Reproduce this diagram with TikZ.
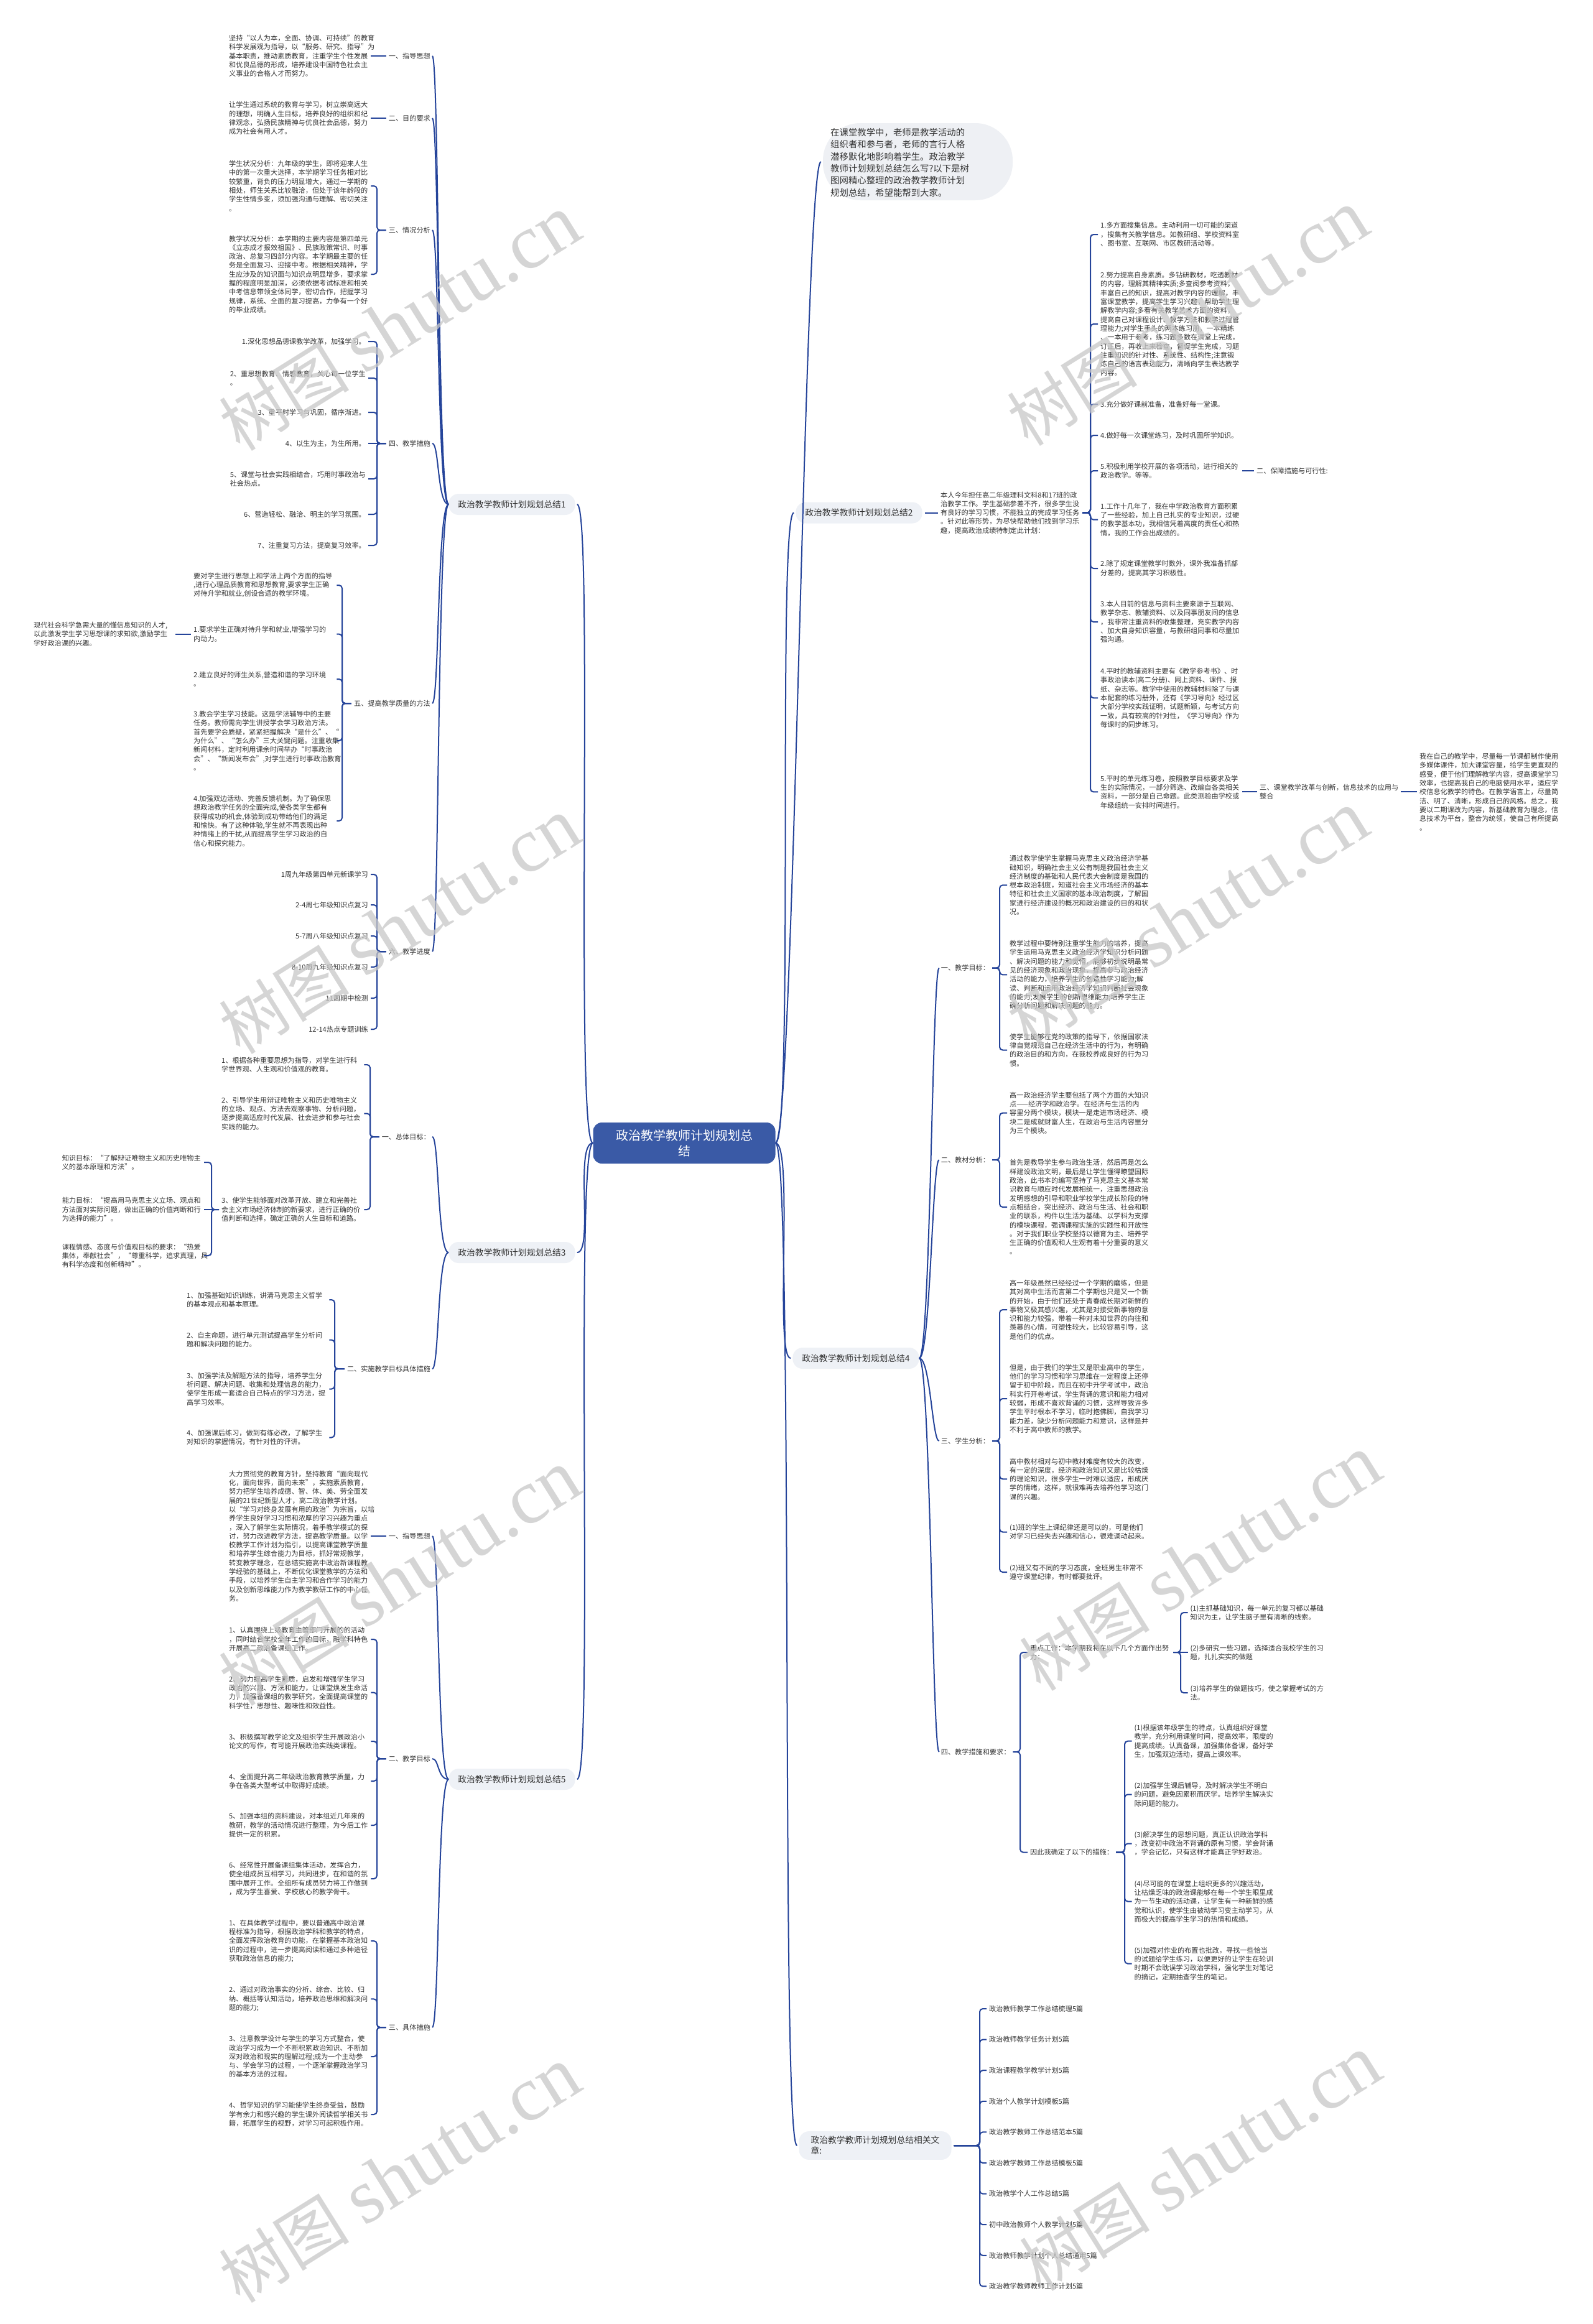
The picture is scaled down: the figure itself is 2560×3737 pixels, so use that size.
\documentclass[tikz,border=0pt]{standalone}
\usepackage{fontspec}
\setmainfont{Noto Sans CJK SC}
\newfontfamily\wmlat{Liberation Serif}
\usetikzlibrary{calc}
\definecolor{linec}{HTML}{25449A}
\definecolor{textc}{HTML}{333333}
\definecolor{cbg}{HTML}{3A5AA6}
\definecolor{nbg}{HTML}{EEF1F6}
\definecolor{ibg}{HTML}{EEF0F4}
\definecolor{wm}{HTML}{C8C8C8}
\newcommand\ftxt{\fontsize{11.15}{14.3}\selectfont}
\newcommand\fbr{\fontsize{13.8}{17}\selectfont}
\newcommand\fintro{\fontsize{14.4}{19.3}\selectfont}
\newcommand\fctr{\fontsize{20}{25}\selectfont}
\newcommand\brl[3]{\draw[conn] (#1.west) -- (#1.west -| #2) -- (#3.east -| #2) -- (#3.east);}
\newcommand\brr[3]{\draw[conn] (#1.east) -- (#1.east -| #2) -- (#3.west -| #2) -- (#3.west);}
\newcommand\stl[2]{\draw[conn] (#1.west) -- (#2.east);}
\newcommand\str[2]{\draw[conn] (#1.east) -- (#2.west);}
\newcommand\cvl[2]{\draw[curv] (#1.west) .. controls +(-18,0) and +(14,0) .. (#2.east);}
\newcommand\cvr[2]{\draw[curv] (#1.east) .. controls +(18,0) and +(-14,0) .. (#2.west);}
\tikzset{
  tx/.style={font=\ftxt, text=textc, inner sep=0pt, align=left},
  lb/.style={font=\ftxt, text=textc, inner sep=0pt},
  conn/.style={draw=linec, line width=2pt, rounded corners=5pt, shorten <=4pt, shorten >=4pt},
  curv/.style={draw=linec, line width=2pt, shorten >=3pt},
  br/.style={fill=nbg, rounded corners=16pt, font=\fbr, text=textc, inner xsep=15pt, inner ysep=8pt, minimum height=34pt, minimum width=203pt, align=left},
  ctr/.style={fill=cbg, rounded corners=14pt, font=\fctr, text=white, align=center, minimum width=293pt, minimum height=66pt, inner sep=4pt},
  ibub/.style={fill=ibg, rounded corners=60pt},
  wmk/.style={text=wm, opacity=0.75, rotate=32, inner sep=0pt}
}
\begin{document}
\begin{tikzpicture}[x=1pt,y=-1pt]
\path[use as bounding box, fill=white] (0,0) rectangle (2560,3737);
% bracket columns
\coordinate (X1) at (606,0);
\coordinate (X1e) at (550,0);
\coordinate (X3a) at (595,0);
\coordinate (X3h) at (340,0);
\coordinate (X3b) at (538,0);
\coordinate (X2) at (1753,0);
\coordinate (X4) at (1607,0);
\coordinate (X4d) at (1640,0);
\coordinate (X4z) at (1898,0);
\coordinate (X4a) at (1808,0);
\coordinate (X6) at (1575,0);

% ===== center and main branches =====
\node[ctr] (C) at (1100,1838) {政治教学教师计划规划总\\结};
\node[br] (B1) at (823,811) {政治教学教师计划规划总结1};
\node[br] (B3) at (823,2014) {政治教学教师计划规划总结3};
\node[br] (B5) at (823,2861) {政治教学教师计划规划总结5};
\node[br] (B2) at (1381,824.5) {政治教学教师计划规划总结2};
\node[br] (B4) at (1376,2184) {政治教学教师计划规划总结4};
\node[br, minimum width=245pt] (B6) at (1407,3450) {政治教学教师计划规划总结相关文\\章:};
\node[ibub, minimum width=305pt, minimum height=124pt] (IB) at (1475.5,260) {};
\node[tx, font=\fintro, anchor=west] (IT) at (1335,261.6) {在课堂教学中，老师是教学活动的\\组织者和参与者，老师的言行人格\\潜移默化地影响着学生。政治教学\\教师计划规划总结怎么写?以下是树\\图网精心整理的政治教学教师计划\\规划总结，希望能帮到大家。};

\draw[curv] (C.west) .. controls +(-30,0) and +(30,0) .. (B1.east);
\draw[curv] (C.west) .. controls +(-30,0) and +(30,0) .. (B3.east);
\draw[curv] (C.west) .. controls +(-30,0) and +(30,0) .. (B5.east);
\draw[curv] (C.east) .. controls +(30,0) and +(-30,0) .. (IB.west);
\draw[curv] (C.east) .. controls +(30,0) and +(-30,0) .. (B2.west);
\draw[curv] (C.east) .. controls +(30,0) and +(-30,0) .. (B4.west);
\draw[curv] (C.east) .. controls +(30,0) and +(-30,0) .. (B6.west);

% ===== branch 1 =====
\node[lb, anchor=east] (L1a) at (692,90) {一、指导思想};
\node[lb, anchor=east] (L1b) at (692,190) {二、目的要求};
\node[lb, anchor=east] (L1c) at (692,370) {三、情况分析};
\node[lb, anchor=east] (L1d) at (692,713) {四、教学措施};
\node[lb, anchor=east] (L1e) at (692,1131) {五、提高教学质量的方法};
\node[lb, anchor=east] (L1f) at (692,1530) {六、教学进度};
\foreach \n in {L1a,L1b,L1c,L1d,L1e,L1f} {\cvl{B1}{\n}}

\node[tx, text width=224pt, anchor=west] (A1) at (368,90) {坚持“以人为本，全面、协调、可持续”的教育\\科学发展观为指导，以“服务、研究、指导”为\\基本职责，推动素质教育，注重学生个性发展\\和优良品德的形成，培养建设中国特色社会主\\义事业的合格人才而努力。};
\node[tx, text width=224pt, anchor=west] (A2) at (368,190) {让学生通过系统的教育与学习，树立崇高远大\\的理想，明确人生目标，培养良好的组织和纪\\律观念，弘扬民族精神与优良社会品德，努力\\成为社会有用人才。};
\node[tx, text width=224pt, anchor=west] (A3) at (368,299) {学生状况分析：九年级的学生，即将迎来人生\\中的第一次重大选择，本学期学习任务相对比\\较繁重，背负的压力明显增大，通过一学期的\\相处，师生关系比较融洽，但处于该年龄段的\\学生性情多变，须加强沟通与理解、密切关注\\。};
\node[tx, text width=224pt, anchor=west] (A4) at (368,441) {教学状况分析：本学期的主要内容是第四单元\\《立志成才报效祖国》、民族政策常识、时事\\政治、总复习四部分内容。本学期最主要的任\\务是全面复习、迎接中考。根据相关精神，学\\生应涉及的知识面与知识点明显增多，要求掌\\握的程度明显加深，必须依据考试标准和相关\\中考信息带领全体同学，密切合作，把握学习\\规律，系统、全面的复习提高，力争有一个好\\的毕业成绩。};
\stl{L1a}{A1}
\stl{L1b}{A2}
\brl{L1c}{X1}{A3}
\brl{L1c}{X1}{A4}

\node[lb, anchor=east] (D1) at (588,549) {1.深化思想品德课教学改革，加强学习。};
\node[tx, anchor=east] (D2) at (588,608) {2、重思想教育、情感教育，关心每一位学生\\。};
\node[lb, anchor=east] (D3) at (588,663) {3、重平时学习与巩固，循序渐进。};
\node[lb, anchor=east] (D4) at (588,713) {4、以生为主，为生所用。};
\node[tx, anchor=east] (D5) at (588,770) {5、课堂与社会实践相结合，巧用时事政治与\\社会热点。};
\node[lb, anchor=east] (D6) at (588,827) {6、营造轻松、融洽、明主的学习氛围。};
\node[lb, anchor=east] (D7) at (588,877) {7、注重复习方法，提高复习效率。};
\foreach \n in {D1,D2,D3,D5,D6,D7} {\brl{L1d}{X1}{\n}}
\stl{L1d}{D4}

\node[tx, text width=226pt, anchor=west] (E1) at (311,941) {要对学生进行思想上和学法上两个方面的指导\\,进行心理品质教育和思想教育,要求学生正确\\对待升学和就业,创设合适的教学环境。};
\node[tx, text width=226pt, anchor=west] (E2) at (311,1019.6) {1.要求学生正确对待升学和就业,增强学习的\\内动力。};
\node[tx, text width=226pt, anchor=west] (E3) at (311,1092) {2.建立良好的师生关系,营造和谐的学习环境\\。};
\node[tx, text width=226pt, anchor=west] (E4) at (311,1191) {3.教会学生学习技能。这是学法辅导中的主要\\任务。教师需向学生讲授学会学习政治方法。\\首先要学会质疑，紧紧把握解决“是什么”、“\\为什么”、“怎么办”三大关键问题。注重收集\\新闻材料，定时利用课余时间举办“时事政治\\会”、“新闻发布会”,对学生进行时事政治教育\\。};
\node[tx, text width=226pt, anchor=west] (E5) at (311,1320) {4.加强双边活动、完善反馈机制。为了确保思\\想政治教学任务的全面完成,使各类学生都有\\获得成功的机会,体验到成功带给他们的满足\\和愉快。有了这种体验,学生就不再表现出种\\种情绪上的干扰,从而提高学生学习政治的自\\信心和探究能力。};
\foreach \n in {E1,E2,E3,E4,E5} {\brl{L1e}{X1e}{\n}}
\node[tx, text width=218pt, anchor=west] (F1) at (54,1019.6) {现代社会科学急需大量的懂信息知识的人才,\\以此激发学生学习思想课的求知欲,激励学生\\学好政治课的兴趣。};
\draw[conn, shorten <=10pt] (F1.east) -- (E2.west);

\node[lb, anchor=east] (G1) at (592,1406) {1周九年级第四单元新课学习};
\node[lb, anchor=east] (G2) at (592,1455) {2-4周七年级知识点复习};
\node[lb, anchor=east] (G3) at (592,1505) {5-7周八年级知识点复习};
\node[lb, anchor=east] (G4) at (592,1555) {8-10周九年级知识点复习};
\node[lb, anchor=east] (G5) at (592,1605) {11周期中检测};
\node[lb, anchor=east] (G6) at (592,1655) {12-14热点专题训练};
\foreach \n in {G1,G2,G3,G4,G5,G6} {\brl{L1f}{X1}{\n}}

% ===== branch 3 =====
\node[lb, anchor=east] (L3a) at (692,1828) {一、总体目标：};
\node[lb, anchor=east] (L3b) at (692,2201) {二、实施教学目标具体措施};
\cvl{B3}{L3a}
\cvl{B3}{L3b}
\node[tx, text width=225pt, anchor=west] (H31) at (356,1712) {1、根据各种重要思想为指导，对学生进行科\\学世界观、人生观和价值观的教育。};
\node[tx, text width=225pt, anchor=west] (H32) at (356,1790.5) {2、引导学生用辩证唯物主义和历史唯物主义\\的立场、观点、方法去观察事物、分析问题，\\逐步提高适应时代发展、社会进步和参与社会\\实践的能力。};
\node[tx, text width=225pt, anchor=west] (H33) at (356,1945) {3、使学生能够面对改革开放、建立和完善社\\会主义市场经济体制的新要求，进行正确的价\\值判断和选择，确定正确的人生目标和道路。};
\foreach \n in {H31,H32,H33} {\brl{L3a}{X3a}{\n}}
\node[tx, text width=224pt, anchor=west] (J1) at (99.6,1869) {知识目标：“了解辩证唯物主义和历史唯物主\\义的基本原理和方法”。};
\node[tx, text width=224pt, anchor=west] (J2) at (99.6,1945) {能力目标：“提高用马克思主义立场、观点和\\方法面对实际问题，做出正确的价值判断和行\\为选择的能力”。};
\node[tx, text width=224pt, anchor=west] (J3) at (99.6,2019) {课程情感、态度与价值观目标的要求：“热爱\\集体，奉献社会”，“尊重科学，追求真理，具\\有科学态度和创新精神”。};
\brl{H33}{X3h}{J1}
\stl{H33}{J2}
\brl{H33}{X3h}{J3}
\node[tx, text width=225pt, anchor=west] (K1) at (300,2090) {1、加强基础知识训练，讲清马克思主义哲学\\的基本观点和基本原理。};
\node[tx, text width=225pt, anchor=west] (K2) at (300,2154.5) {2、自主命题，进行单元测试提高学生分析问\\题和解决问题的能力。};
\node[tx, text width=225pt, anchor=west] (K3) at (300,2233.5) {3、加强学法及解题方法的指导，培养学生分\\析问题、解决问题、收集和处理信息的能力，\\使学生形成一套适合自己特点的学习方法，提\\高学习效率。};
\node[tx, text width=225pt, anchor=west] (K4) at (300,2311.5) {4、加强课后练习，做到有练必改，了解学生\\对知识的掌握情况，有针对性的评讲。};
\foreach \n in {K1,K2,K3,K4} {\brl{L3b}{X3b}{\n}}

% ===== branch 5 =====
\node[lb, anchor=east] (L5a) at (692,2470) {一、指导思想};
\node[lb, anchor=east] (L5b) at (692,2828) {二、教学目标};
\node[lb, anchor=east] (L5c) at (692,3260) {三、具体措施};
\foreach \n in {L5a,L5b,L5c} {\cvl{B5}{\n}}
\node[tx, text width=224pt, anchor=west] (M1) at (368,2470) {大力贯彻党的教育方针，坚持教育“面向现代\\化，面向世界，面向未来”，实施素质教育，\\努力把学生培养成德、智、体、美、劳全面发\\展的21世纪新型人才，高二政治教学计划。\\以“学习对终身发展有用的政治”为宗旨，以培\\养学生良好学习习惯和浓厚的学习兴趣为重点\\，深入了解学生实际情况，着手教学模式的探\\讨，努力改进教学方法，提高教学质量。以学\\校教学工作计划为指引，以提高课堂教学质量\\和培养学生综合能力为目标，抓好常规教学，\\转变教学理念，在总结实施高中政治新课程教\\学经验的基础上，不断优化课堂教学的方法和\\手段，以培养学生自主学习和合作学习的能力\\以及创新思维能力作为教学教研工作的中心任\\务。};
\stl{L5a}{M1}
\node[tx, text width=224pt, anchor=west] (N1) at (368,2636) {1、认真围绕上级教育主管部门开展的的活动\\，同时结合学校全年工作的目标，融学科特色\\开展高二政治备课组工作。};
\node[tx, text width=224pt, anchor=west] (N2) at (368,2721.6) {2、努力提高学生素质，启发和增强学生学习\\政治的兴趣、方法和能力，让课堂焕发生命活\\力，加强备课组的教学研究，全面提高课堂的\\科学性，思想性、趣味性和效益性。};
\node[tx, text width=224pt, anchor=west] (N3) at (368,2800) {3、积极撰写教学论文及组织学生开展政治小\\论文的写作，有可能开展政治实践类课程。};
\node[tx, text width=224pt, anchor=west] (N4) at (368,2864) {4、全面提升高二年级政治教育教学质量，力\\争在各类大型考试中取得好成绩。};
\node[tx, text width=224pt, anchor=west] (N5) at (368,2935) {5、加强本组的资料建设，对本组近几年来的\\教研，教学的活动情况进行整理，为今后工作\\提供一定的积累。};
\node[tx, text width=224pt, anchor=west] (N6) at (368,3021) {6、经常性开展备课组集体活动，发挥合力，\\使全组成员互相学习，共同进步，在和谐的氛\\围中展开工作。全组所有成员努力将工作做到\\，成为学生喜爱、学校放心的教学骨干。};
\foreach \n in {N1,N2,N3,N4,N5,N6} {\brl{L5b}{X1}{\n}}
\node[tx, text width=224pt, anchor=west] (P1) at (368,3121) {1、在具体教学过程中，要以普通高中政治课\\程标准为指导，根据政治学科和教学的特点，\\全面发挥政治教育的功能，在掌握基本政治知\\识的过程中，进一步提高阅读和通过多种途径\\获取政治信息的能力;};
\node[tx, text width=224pt, anchor=west] (P2) at (368,3214.4) {2、通过对政治事实的分析、综合、比较、归\\纳、概括等认知活动，培养政治思维和解决问\\题的能力;};
\node[tx, text width=224pt, anchor=west] (P3) at (368,3307) {3、注意教学设计与学生的学习方式整合，使\\政治学习成为一个不断积累政治知识、不断加\\深对政治和现实的理解过程;成为一个主动参\\与、学会学习的过程，一个逐渐掌握政治学习\\的基本方法的过程。};
\node[tx, text width=224pt, anchor=west] (P4) at (368,3400) {4、哲学知识的学习能使学生终身受益，鼓励\\学有余力和感兴趣的学生课外阅读哲学相关书\\籍，拓展学生的视野，对学习可起积极作用。};
\foreach \n in {P1,P2,P3,P4} {\brl{L5c}{X1}{\n}}

% ===== branch 2 =====
\node[tx, text width=224pt, anchor=west] (Q0) at (1512,824.5) {本人今年担任高二年级理科文科8和17班的政\\治教学工作。学生基础参差不齐，很多学生没\\有良好的学习习惯，不能独立的完成学习任务\\。针对此等形势，为尽快帮助他们找到学习乐\\趣，提高政治成绩特制定此计划：};
\str{B2}{Q0}
\node[tx, text width=224pt, anchor=west] (R1) at (1769,377) {1.多方面搜集信息。主动利用一切可能的渠道\\，搜集有关教学信息。如教研组、学校资料室\\、图书室、互联网、市区教研活动等。};
\node[tx, text width=224pt, anchor=west] (R2) at (1769,521) {2.努力提高自身素质。多钻研教材，吃透教材\\的内容，理解其精神实质;多查阅参考资料，\\丰富自己的知识，提高对教学内容的理解，丰\\富课堂教学，提高学生学习兴趣，帮助学生理\\解教学内容;多看有关教学艺术方面的资料，\\提高自己对课程设计、教学方法和教学过程管\\理能力;对学生手头的两本练习册，一本精练\\、一本用于参考，练习题多数在课堂上完成，\\订正后，再收上来检查，督促学生完成，习题\\注重知识的针对性、系统性、结构性;注意锻\\炼自己的语言表达能力，清晰向学生表达教学\\内容。};
\node[tx, text width=224pt, anchor=west] (R3) at (1769,650) {3.充分做好课前准备，准备好每一堂课。};
\node[tx, text width=224pt, anchor=west] (R4) at (1769,700) {4.做好每一次课堂练习，及时巩固所学知识。};
\node[tx, text width=224pt, anchor=west] (R5) at (1769,757) {5.积极利用学校开展的各项活动，进行相关的\\政治教学。等等。};
\node[tx, text width=224pt, anchor=west] (R6) at (1769,835.7) {1.工作十几年了，我在中学政治教育方面积累\\了一些经验，加上自己扎实的专业知识，过硬\\的教学基本功，我相信凭着高度的责任心和热\\情，我的工作会出成绩的。};
\node[tx, text width=224pt, anchor=west] (R7) at (1769,914) {2.除了规定课堂教学时数外，课外我准备抓部\\分差的，提高其学习积极性。};
\node[tx, text width=224pt, anchor=west] (R8) at (1769,1000) {3.本人目前的信息与资料主要来源于互联网、\\教学杂志、教辅资料、以及同事朋友间的信息\\，我非常注重资料的收集整理，充实教学内容\\、加大自身知识容量，与教研组同事和尽量加\\强沟通。};
\node[tx, text width=224pt, anchor=west] (R9) at (1769,1122.3) {4.平时的教辅资料主要有《教学参考书》、时\\事政治读本(高二分册)、网上资料、课件、报\\纸、杂志等。教学中使用的教辅材料除了与课\\本配套的练习册外，还有《学习导向》经过区\\大部分学校实践证明，试题新颖，与考试方向\\一致，具有较高的针对性，《学习导向》作为\\每课时的同步练习。};
\node[tx, text width=224pt, anchor=west] (R10) at (1769,1273.4) {5.平时的单元练习卷，按照教学目标要求及学\\生的实际情况，一部分筛选、改编自各类相关\\资料，一部分是自己命题。此类测验由学校或\\年级组统一安排时间进行。};
\foreach \n in {R1,R2,R3,R4,R5,R6,R7,R8,R9,R10} {\brr{Q0}{X2}{\n}}
\node[lb, anchor=west] (S1) at (2020,757) {二、保障措施与可行性:};
\str{R5}{S1}
\node[tx, anchor=west] (T1) at (2025,1273.4) {三、课堂教学改革与创新，信息技术的应用与\\整合};
\str{R10}{T1}
\node[tx, text width=224pt, anchor=west] (T2) at (2282,1273.4) {我在自己的教学中，尽量每一节课都制作使用\\多媒体课件，加大课堂容量，给学生更直观的\\感受，便于他们理解教学内容，提高课堂学习\\效率，也提高我自己的电脑使用水平，适应学\\校信息化教学的特色。在教学语言上，尽量简\\洁、明了、清晰，形成自己的风格。总之，我\\要以二期课改为内容，新基础教育为理念，信\\息技术为平台，整合为统领，使自己有所提高\\。};
\str{T1}{T2}

% ===== branch 4 =====
\node[lb, anchor=west] (U1) at (1512.7,1556.5) {一、教学目标：};
\node[lb, anchor=west] (U2) at (1512.7,1865) {二、教材分析：};
\node[lb, anchor=west] (U3) at (1512.7,2317) {三、学生分析：};
\node[lb, anchor=west] (U4) at (1512.7,2817) {四、教学措施和要求：};
\foreach \n in {U1,U2,U3,U4} {\cvr{B4}{\n}}
\node[tx, text width=224pt, anchor=west] (V1) at (1623,1423.3) {通过教学使学生掌握马克思主义政治经济学基\\础知识，明确社会主义公有制是我国社会主义\\经济制度的基础和人民代表大会制度是我国的\\根本政治制度，知道社会主义市场经济的基本\\特征和社会主义国家的基本政治制度，了解国\\家进行经济建设的概况和政治建设的目的和状\\况。};
\node[tx, text width=224pt, anchor=west] (V2) at (1623,1567.4) {教学过程中要特别注重学生能力的培养，提高\\学生运用马克思主义政治经济学知识分析问题\\、解决问题的能力和觉悟，能够初步说明最常\\见的经济现象和政治现象，提高参与政治经济\\活动的能力，培养学生的创造性学习能力;解\\读、判断和运用政治经济学知识判断社会现象\\的能力;发展学生的创新思维能力;培养学生正\\确分析问题和解决问题的能力。};
\node[tx, text width=224pt, anchor=west] (V3) at (1623,1688.5) {使学生能够在党的政策的指导下，依据国家法\\律自觉规范自己在经济生活中的行为，有明确\\的政治目的和方向，在我校养成良好的行为习\\惯。};
\foreach \n in {V1,V2,V3} {\brr{U1}{X4}{\n}}
\node[tx, text width=224pt, anchor=west] (W1) at (1623,1789.6) {高一政治经济学主要包括了两个方面的大知识\\点——经济学和政治学。在经济与生活的内\\容里分两个模块，模块一是走进市场经济、模\\块二是成就财富人生，在政治与生活内容里分\\为三个模块。};
\node[tx, text width=224pt, anchor=west] (W2) at (1623,1941) {首先是教导学生参与政治生活，然后再是怎么\\样建设政治文明，最后是让学生懂得瞭望国际\\政治，此书本的编写坚持了马克思主义基本常\\识教育与顺应时代发展相统一，注重思想政治\\发明感想的引导和职业学校学生成长阶段的特\\点相结合，突出经济、政治与生活、社会和职\\业的联系，构件以生活为基础、以学科为支撑\\的模块课程，强调课程实施的实践性和开放性\\。对于我们职业学校坚持以德育为主、培养学\\生正确的价值观和人生观有着十分重要的意义\\。};
\foreach \n in {W1,W2} {\brr{U2}{X4}{\n}}
\node[tx, text width=224pt, anchor=west] (XA) at (1623,2106) {高一年级虽然已经经过一个学期的磨练，但是\\其对高中生活而言第二个学期也只是又一个新\\的开始，由于他们还处于青春成长期对新鲜的\\事物又极其感兴趣，尤其是对接受新事物的意\\识和能力较强，带着一种对未知世界的向往和\\羡慕的心情，可塑性较大，比较容易引导，这\\是他们的优点。};
\node[tx, text width=224pt, anchor=west] (XB) at (1623,2249) {但是，由于我们的学生又是职业高中的学生，\\他们的学习习惯和学习思维在一定程度上还停\\留于初中阶段，而且在初中升学考试中，政治\\科实行开卷考试，学生背诵的意识和能力相对\\较弱，形成不喜欢背诵的习惯，这样导致许多\\学生平时根本不学习，临时抱佛脚，自我学习\\能力差，缺少分析问题能力和意识，这样是并\\不利于高中教师的教学。};
\node[tx, text width=224pt, anchor=west] (XC) at (1623,2378.3) {高中教材相对与初中教材难度有较大的改变，\\有一定的深度，经济和政治知识又是比较枯燥\\的理论知识，很多学生一时难以适应，形成厌\\学的情绪，这样，就很难再去培养他学习这门\\课的兴趣。};
\node[tx, text width=224pt, anchor=west] (XD) at (1623,2463.5) {(1)班的学生上课纪律还是可以的，可是他们\\对学习已经失去兴趣和信心，很难调动起来。};
\node[tx, text width=224pt, anchor=west] (XE) at (1623,2528) {(2)班又有不同的学习态度，全班男生非常不\\遵守课堂纪律，有时都要批评。};
\foreach \n in {XA,XB,XC,XD,XE} {\brr{U3}{X4}{\n}}
\node[tx, text width=226pt, anchor=west] (Y1) at (1656,2657) {重点工作：本学期我将在以下几个方面作出努\\力：};
\node[lb, anchor=west] (Y2) at (1656,2978.5) {因此我确定了以下的措施：};
\brr{U4}{X4d}{Y1}
\brr{U4}{X4d}{Y2}
\node[tx, text width=224pt, anchor=west] (Z1) at (1913.5,2593) {(1)主抓基础知识，每一单元的复习都以基础\\知识为主，让学生脑子里有清晰的线索。};
\node[tx, text width=224pt, anchor=west] (Z2) at (1913.5,2657) {(2)多研究一些习题，选择适合我校学生的习\\题，扎扎实实的做题};
\node[tx, text width=224pt, anchor=west] (Z3) at (1913.5,2722) {(3)培养学生的做题技巧，使之掌握考试的方\\法。};
\brr{Y1}{X4z}{Z1}
\str{Y1}{Z2}
\brr{Y1}{X4z}{Z3}
\node[tx, text width=224pt, anchor=west] (AA1) at (1823.5,2799.7) {(1)根据该年级学生的特点，认真组织好课堂\\教学，充分利用课堂时间，提高效率，限度的\\提高成绩。认真备课，加强集体备课，备好学\\生，加强双边活动，提高上课效率。};
\node[tx, text width=224pt, anchor=west] (AA2) at (1823.5,2885.5) {(2)加强学生课后辅导，及时解决学生不明白\\的问题，避免因累积而厌学。培养学生解决实\\际问题的能力。};
\node[tx, text width=224pt, anchor=west] (AA3) at (1823.5,2964.5) {(3)解决学生的思想问题，真正认识政治学科\\，改变初中政治不背诵的原有习惯，学会背诵\\，学会记忆，只有这样才能真正学好政治。};
\node[tx, text width=224pt, anchor=west] (AA4) at (1823.5,3057.5) {(4)尽可能的在课堂上组织更多的兴趣活动，\\让枯燥乏味的政治课能够在每一个学生眼里成\\为一节生动的活动课，让学生有一种新鲜的感\\觉和认识，使学生由被动学习变主动学习，从\\而极大的提高学生学习的热情和成绩。};
\node[tx, text width=224pt, anchor=west] (AA5) at (1823.5,3157.5) {(5)加强对作业的布置也批改，寻找一些恰当\\的试题给学生练习，以便更好的让学生在轮训\\时期不会耽误学习政治学科，强化学生对笔记\\的摘记，定期抽查学生的笔记。};
\foreach \n in {AA1,AA2,AA3,AA4,AA5} {\brr{Y2}{X4a}{\n}}

% ===== related articles =====
\node[lb, anchor=west] (RL1) at (1590,3230) {政治教师教学工作总结梳理5篇};
\node[lb, anchor=west] (RL2) at (1590,3279.6) {政治教师教学任务计划5篇};
\node[lb, anchor=west] (RL3) at (1590,3329.2) {政治课程教学教学计划5篇};
\node[lb, anchor=west] (RL4) at (1590,3378.8) {政治个人教学计划模板5篇};
\node[lb, anchor=west] (RL5) at (1590,3428.4) {政治教学教师工作总结范本5篇};
\node[lb, anchor=west] (RL6) at (1590,3478) {政治教学教师工作总结模板5篇};
\node[lb, anchor=west] (RL7) at (1590,3527.6) {政治教学个人工作总结5篇};
\node[lb, anchor=west] (RL8) at (1590,3577.2) {初中政治教师个人教学计划5篇};
\node[lb, anchor=west] (RL9) at (1590,3626.8) {政治教师教学计划个人总结通用5篇};
\node[lb, anchor=west] (RL10) at (1590,3676.4) {政治教学教师教师工作计划5篇};
\foreach \n in {RL1,RL2,RL3,RL4,RL5,RL6,RL7,RL8,RL9,RL10} {\brr{B6}{X6}{\n}}

% ===== watermark =====
\foreach \wx/\wy in {643/520, 1910/512, 643/1490, 1910/1478, 643/2538, 1930/2514, 643/3498, 1930/3479} {
  \node[wmk] at (\wx,\wy) {\fontsize{105}{110}\selectfont 树图\hspace{25pt}{\wmlat\fontsize{125}{130}\selectfont shutu.cn}};
}
\end{tikzpicture}
\end{document}
